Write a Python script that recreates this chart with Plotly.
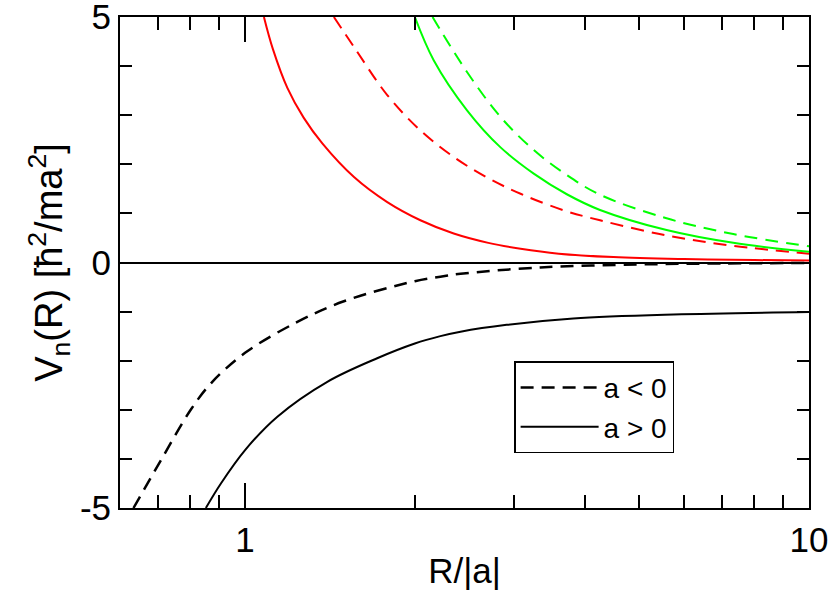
import plotly.graph_objects as go

# ---- data (R/|a|, V_n in hbar^2/ma^2) ----
black_dash_R = [0.634, 0.709, 0.801, 0.870, 1.0, 1.238, 1.497, 2.0, 2.22, 2.41, 3.34, 5.0, 7.0, 10.0]
black_dash_V = [-5.0, -4.03, -3.0, -2.46, -1.84, -1.21, -0.79, -0.38, -0.29, -0.23, -0.10, -0.04, -0.02, -0.01]

black_solid_R = [0.852, 0.906, 1.0, 1.141, 1.399, 1.715, 2.0, 2.22, 2.41, 2.91, 3.82, 5.75, 10.0]
black_solid_V = [-5.0, -4.5, -3.82, -3.14, -2.43, -1.95, -1.65, -1.50, -1.41, -1.27, -1.14, -1.06, -1.01]

red_solid_R = [1.08, 1.12, 1.189, 1.27, 1.372, 1.56, 1.787, 2.046, 2.344, 2.7, 3.08, 3.6, 4.5, 6.0, 8.0, 10.0]
red_solid_V = [5.0, 4.35, 3.55, 2.95, 2.42, 1.74, 1.23, 0.86, 0.59, 0.40, 0.28, 0.18, 0.11, 0.07, 0.05, 0.04]

red_dash_R = [1.437, 1.56, 1.787, 2.046, 2.344, 2.686, 3.08, 3.7, 4.26, 5.59, 7.34, 10.0]
red_dash_V = [5.0, 4.39, 3.41, 2.69, 2.15, 1.73, 1.40, 1.05, 0.86, 0.55, 0.34, 0.18]

green_solid_R = [2.0, 2.16, 2.475, 2.835, 3.25, 3.72, 4.26, 5.59, 7.34, 10.0]
green_solid_V = [5.0, 4.12, 3.10, 2.35, 1.81, 1.39, 1.07, 0.66, 0.40, 0.22]

green_dash_R = [2.15, 2.475, 2.835, 3.25, 3.72, 4.26, 5.59, 7.34, 10.0]
green_dash_V = [5.0, 3.88, 2.97, 2.29, 1.78, 1.38, 0.90, 0.58, 0.33]

x_ticks = [1, 10]
x_minor = [0.7, 0.8, 0.9, 2, 3, 4, 5, 6, 7, 8, 9]
y_ticks = [-5, 0, 5]

FONT = "Liberation Sans, Arial, sans-serif"
DASH = "13px,8px"

fig = go.Figure()

def add(R, V, color, dash, name=None, show=False, width=2):
    fig.add_trace(go.Scatter(
        x=R, y=V, mode="lines", name=name, showlegend=show,
        line=dict(color=color, width=width, dash=dash, shape="spline", smoothing=1.0),
    ))

add(red_solid_R, red_solid_V, "#ff0000", "solid")
add(red_dash_R, red_dash_V, "#ff0000", DASH)
add(green_solid_R, green_solid_V, "#00ff00", "solid")
add(green_dash_R, green_dash_V, "#00ff00", DASH)
add(black_dash_R, black_dash_V, "black", DASH, "a < 0", True, 2.5)
add(black_solid_R, black_solid_V, "black", "solid", "a > 0", True, 2)

fig.update_layout(
    width=835, height=594,
    margin=dict(l=120, r=26, t=17, b=86),
    paper_bgcolor="white", plot_bgcolor="white",
    font=dict(family=FONT, size=36, color="black"),
    legend=dict(
        x=0.572, y=0.299, xanchor="left", yanchor="top",
        bordercolor="black", borderwidth=1.5, bgcolor="white",
        font=dict(family=FONT, size=28, color="black"), tracegroupgap=0, itemwidth=78,
    ),
)

fig.update_xaxes(
    type="log", range=[-0.2218, 1.0], automargin=False, ticklabeloverflow="allow",
    tickvals=x_ticks, ticktext=[str(v) for v in x_ticks],
    ticks="inside", ticklen=25, tickwidth=1.5, tickcolor="black",
    showline=True, linecolor="black", linewidth=2, mirror="ticks",
    showgrid=False, zeroline=False,
    minor=dict(tickvals=x_minor, ticks="inside", ticklen=13, tickwidth=1.5, tickcolor="black", showgrid=False),
    title=dict(text="R/|a|", standoff=0, font=dict(family=FONT, size=35, color="black")),
    tickfont=dict(family=FONT, size=35, color="black"),
)

fig.update_yaxes(
    range=[-5, 5], automargin=False, ticklabeloverflow="allow",
    tickvals=y_ticks, ticktext=[str(v) for v in y_ticks],
    ticks="inside", ticklen=12, tickwidth=1.5, tickcolor="black",
    showline=True, linecolor="black", linewidth=2, mirror="ticks",
    showgrid=False, zeroline=True, zerolinecolor="black", zerolinewidth=1.5,
    minor=dict(dtick=1, ticks="inside", ticklen=12, tickwidth=1.5, tickcolor="black", showgrid=False),
    title=dict(text="V<sub>n</sub>(R) [ħ<sup>2</sup>/ma<sup>2</sup>]", standoff=6,
               font=dict(family=FONT, size=38, color="black")),
    tickfont=dict(family=FONT, size=35, color="black"),
)

fig.write_html("out.html")
